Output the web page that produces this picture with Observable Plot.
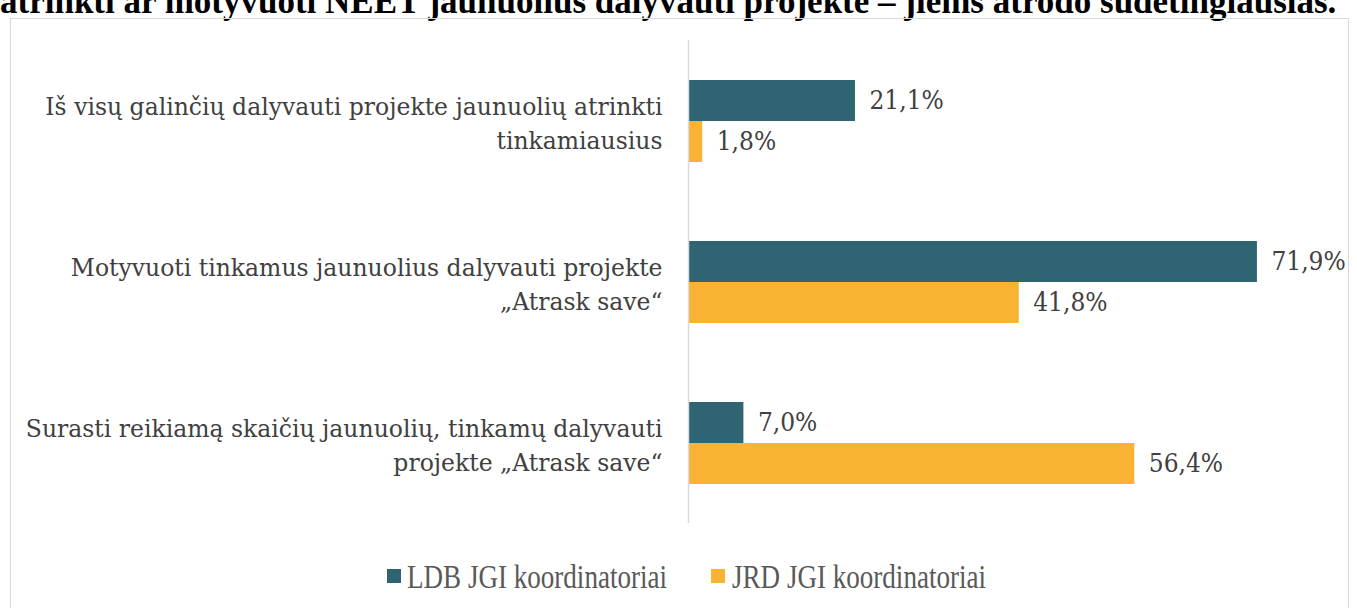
<!DOCTYPE html>
<html>
<head>
<meta charset="utf-8">
<script src="https://cdn.jsdelivr.net/npm/d3@7"></script>
<script src="https://cdn.jsdelivr.net/npm/@observablehq/plot@0.6"></script>
<style>
  html, body { margin: 0; padding: 0; background: #fff; width: 1357px; height: 608px; overflow: hidden; position: relative; }
  #title { position: absolute; left: 0; top: -18px; white-space: nowrap; font-family: "Liberation Serif", serif; font-weight: bold; font-size: 35px; line-height: normal; color: #000; }
  #frame { position: absolute; left: 10px; top: 18px; width: 1339px; height: 620px; border: 1px solid #d9d9d9; box-sizing: border-box; }
  #chart { position: absolute; left: 0; top: 0; }
  .sw { position: absolute; width: 14px; height: 14px; top: 569px; }
  .lt { position: absolute; top: 561px; font-family: "Liberation Serif", serif; font-size: 33px; line-height: 33px; color: #595959; white-space: nowrap; transform: scaleX(0.82); transform-origin: left center; }
</style>
</head>
<body>
<div id="title">atrinkti ar motyvuoti NEET jaunuolius dalyvauti projekte – jiems atrodo sudėtingiausias.</div>
<div id="frame"></div>
<div id="chart"></div>
<div id="legend"></div>
<script>
const categories = [
  "Iš visų galinčių dalyvauti projekte jaunuolių atrinkti\ntinkamiausius",
  "Motyvuoti tinkamus jaunuolius dalyvauti projekte\n„Atrask save“",
  "Surasti reikiamą skaičių jaunuolių, tinkamų dalyvauti\nprojekte „Atrask save“"
];
const seriesNames = ["LDB JGI koordinatoriai", "JRD JGI koordinatoriai"];
const ldbValues = [21.1, 71.9, 7.0];
const jrdValues = [1.8, 41.8, 56.4];
const colors = ["#2F6472", "#F9B233"];

const ldb = categories.map((c, i) => ({category: c, value: ldbValues[i]}));
const jrd = categories.map((c, i) => ({category: c, value: jrdValues[i]}));
const fmt = v => v.toFixed(1).replace(".", ",") + "%";
const valueFont = "'DejaVu Serif Condensed', 'DejaVu Serif', serif";

const plot = Plot.plot({
  width: 1357,
  height: 608,
  marginLeft: 688,
  marginRight: 36,
  marginTop: 40,
  marginBottom: 85,
  style: {fontFamily: "'DejaVu Serif', serif", background: "transparent"},
  x: {domain: [0, 80], axis: null},
  y: {domain: categories, paddingInner: 0.4907, paddingOuter: 0.245, label: null},
  marks: [
    Plot.barX(ldb, {x: "value", y: "category", fill: colors[0], insetBottom: 41, insetTop: 0}),
    Plot.barX(jrd, {x: "value", y: "category", fill: colors[1], insetTop: 41, insetBottom: 0}),
    Plot.ruleX([0], {stroke: "#d9d9d9", strokeWidth: 1.5}),
    Plot.text(ldb, {x: "value", y: "category", text: d => fmt(d.value), dx: 14, dy: -20.5, textAnchor: "start", fill: "#404040", fontSize: 26, fontFamily: valueFont}),
    Plot.text(jrd, {x: "value", y: "category", text: d => fmt(d.value), dx: 14, dy: 20.5, textAnchor: "start", fill: "#404040", fontSize: 26, fontFamily: valueFont}),
    Plot.axisY({tickSize: 0, tickPadding: 26, fontSize: 23.5, fill: "#404040", lineHeight: 1.447, label: null})
  ]
});
document.getElementById("chart").appendChild(plot);

const legend = document.getElementById("legend");
const swatchX = [387, 711];
const textX = [407, 732];
seriesNames.forEach((n, i) => {
  const sw = document.createElement("div");
  sw.className = "sw";
  sw.style.left = swatchX[i] + "px";
  sw.style.background = colors[i];
  legend.appendChild(sw);
  const t = document.createElement("div");
  t.className = "lt";
  t.style.left = textX[i] + "px";
  t.textContent = n;
  legend.appendChild(t);
});
</script>
</body>
</html>
